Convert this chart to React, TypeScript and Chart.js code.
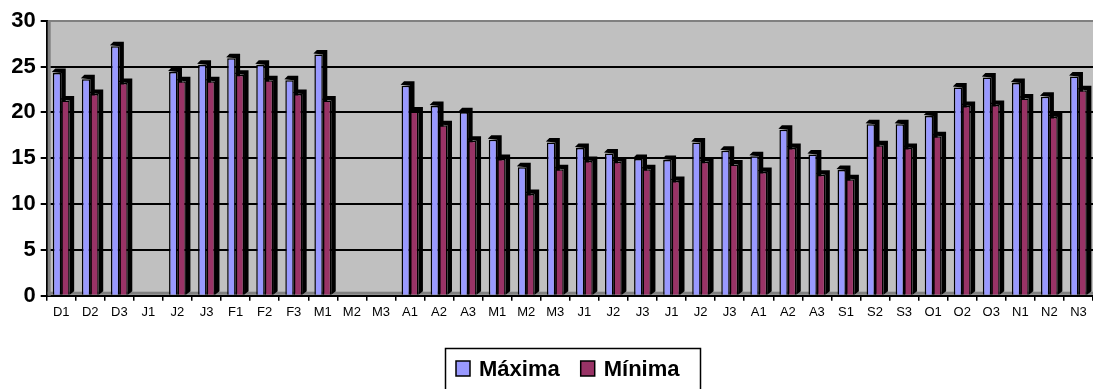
import React, { useEffect, useRef } from "react";
import { Chart, registerables } from "chart.js";

Chart.register(...registerables);

const categories: string[] = [
  "D1", "D2", "D3", "J1", "J2", "J3", "F1", "F2", "F3", "M1", "M2", "M3",
  "A1", "A2", "A3", "M1", "M2", "M3", "J1", "J2", "J3", "J1", "J2", "J3",
  "A1", "A2", "A3", "S1", "S2", "S3", "O1", "O2", "O3", "N1", "N2", "N3",
];

const maxima: (number | null)[] = [
  24.3, 23.6, 27.2, null, 24.4, 25.2, 25.9, 25.2, 23.5, 26.3, null, null,
  22.9, 20.7, 20.0, 17.0, 14.0, 16.7, 16.1, 15.5, 14.9, 14.8, 16.7, 15.8,
  15.2, 18.1, 15.4, 13.7, 18.7, 18.7, 19.6, 22.7, 23.8, 23.2, 21.7, 23.9,
];

const minima: (number | null)[] = [
  21.3, 22.0, 23.2, null, 23.4, 23.4, 24.1, 23.5, 22.0, 21.3, null, null,
  20.1, 18.6, 16.9, 14.9, 11.1, 13.8, 14.7, 14.6, 13.8, 12.5, 14.6, 14.3,
  13.5, 16.1, 13.2, 12.7, 16.4, 16.1, 17.4, 20.7, 20.8, 21.5, 19.5, 22.4,
];

const seriesNames: string[] = ["Máxima", "Mínima"];
const seriesColors: string[] = ["#9999FF", "#993366"];
const yTicks: number[] = [0, 5, 10, 15, 20, 25, 30];

const FONT = '"Liberation Sans", Arial, sans-serif';

const decorPlugin = {
  id: "decor",
  beforeDraw(chart: any) {
    const { ctx, chartArea: a } = chart;
    ctx.save();
    ctx.fillStyle = "#C0C0C0";
    ctx.fillRect(a.left, a.top, a.right - a.left, a.bottom - a.top);
    ctx.restore();
  },
  beforeDatasetsDraw(chart: any) {
    const { ctx, chartArea: a } = chart;
    ctx.save();
    // left wall side and floor strip (3D look)
    ctx.fillStyle = "#808080";
    ctx.fillRect(a.left + 1, a.top, 3, a.bottom - a.top);
    ctx.fillRect(a.left + 1, a.bottom - 4, a.right - a.left, 3);
    // depth shadows of bars
    const d = 3.5;
    ctx.fillStyle = "#000000";
    chart.data.datasets.forEach((_ds: any, i: number) => {
      const meta = chart.getDatasetMeta(i);
      meta.data.forEach((bar: any, j: number) => {
        const v = chart.data.datasets[i].data[j];
        if (v === null || v === undefined) return;
        const { x, y, base, width } = bar.getProps(["x", "y", "base", "width"], true);
        const l = x - width / 2;
        const r = x + width / 2;
        ctx.beginPath();
        ctx.moveTo(l - 1, y - 1);
        ctx.lineTo(l + d - 1, y - d - 1);
        ctx.lineTo(r + d + 1, y - d - 1);
        ctx.lineTo(r + d + 1, base - d);
        ctx.lineTo(r, base);
        ctx.lineTo(r, y);
        ctx.closePath();
        ctx.fill();
      });
    });
    ctx.restore();
  },
  afterDraw(chart: any) {
    const { ctx } = chart;
    ctx.save();
    // legend box
    ctx.strokeStyle = "#000";
    ctx.lineWidth = 1.5;
    ctx.strokeRect(445.5, 348.5, 255, 50);
    ctx.font = `bold 22px ${FONT}`;
    ctx.textBaseline = "middle";
    ctx.textAlign = "left";
    let x = 456;
    const cy = 368.5;
    chart.data.datasets.forEach((ds: any) => {
      ctx.fillStyle = ds.backgroundColor;
      ctx.fillRect(x, cy - 7.5, 14, 15);
      ctx.strokeStyle = "#000";
      ctx.lineWidth = 1.5;
      ctx.strokeRect(x, cy - 7.5, 14, 15);
      x += 14 + 9;
      ctx.fillStyle = "#000";
      ctx.fillText(ds.label, x, cy + 1);
      x += ctx.measureText(ds.label).width + 21;
    });
    ctx.restore();
  },
};

export default function App() {
  const ref = useRef<HTMLCanvasElement | null>(null);

  useEffect(() => {
    if (!ref.current) return;
    const chart = new Chart(ref.current, {
      type: "bar",
      data: {
        labels: categories,
        datasets: [
          {
            label: seriesNames[0],
            data: maxima,
            backgroundColor: seriesColors[0],
            borderColor: "#000",
            borderWidth: 1.5,
            categoryPercentage: 0.58,
            barPercentage: 1.0,
          },
          {
            label: seriesNames[1],
            data: minima,
            backgroundColor: seriesColors[1],
            borderColor: "#000",
            borderWidth: 1.5,
            categoryPercentage: 0.58,
            barPercentage: 1.0,
          },
        ],
      },
      options: {
        animation: false,
        responsive: true,
        maintainAspectRatio: false,
        layout: { padding: { top: 20.7, left: 0, right: 0, bottom: 63.3 } },
        plugins: {
          legend: { display: false },
          tooltip: { enabled: false },
        },
        scales: {
          x: {
            grid: {
              display: true,
              drawOnChartArea: false,
              drawTicks: true,
              tickLength: 5,
              color: "#000",
              lineWidth: 1.5,
              offset: true,
            },
            border: { display: true, color: "#000", width: 2 },
            ticks: {
              autoSkip: false,
              maxRotation: 0,
              minRotation: 0,
              padding: 4,
              color: "#000",
              font: { family: FONT, size: 13 },
            },
            afterFit: (scale: any) => {
              scale.height = 30;
            },
          },
          y: {
            min: yTicks[0],
            max: yTicks[yTicks.length - 1],
            grid: {
              color: (c: any) => (c.tick && c.tick.value === 30 ? "#808080" : "#000"),
              tickColor: "#000",
              lineWidth: 2,
              tickLength: 6,
            },
            border: { display: true, color: "#000", width: 2 },
            ticks: {
              stepSize: 5,
              padding: 5,
              color: "#000",
              font: { family: FONT, size: 22, weight: "bold" },
            },
            afterFit: (scale: any) => {
              scale.width = 46.7;
            },
          },
        },
      },
      plugins: [decorPlugin],
    });
    return () => chart.destroy();
  }, []);

  return (
    <div style={{ position: "fixed", left: 0, top: 0, width: 1093, height: 389, background: "#fff" }}>
      <canvas ref={ref} />
    </div>
  );
}
